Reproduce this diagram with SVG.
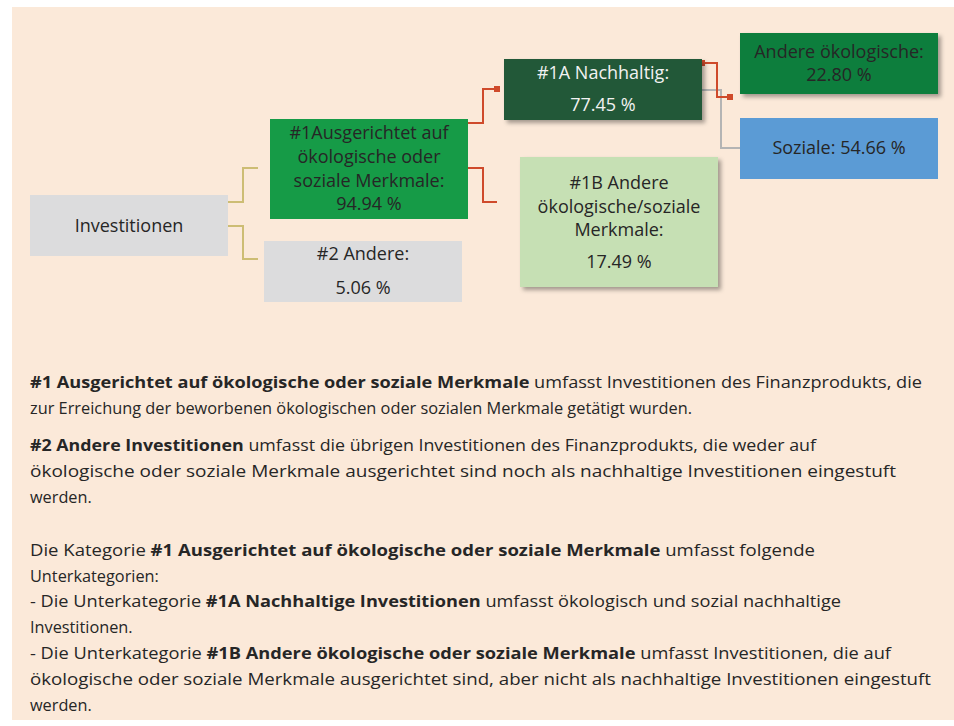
<svg xmlns="http://www.w3.org/2000/svg" width="954" height="726" viewBox="0 0 954 726">
<defs>
<style>
.t{font-family:"Open Sans","Liberation Sans",sans-serif;font-size:18px;fill:#262626;text-anchor:middle}
.w{fill:#f2f2f2}
.p{font-family:"Open Sans","Liberation Sans",sans-serif;font-size:16.3px;fill:#262626}
.b{font-weight:bold}
.red{fill:none;stroke:#cf4a2b;stroke-width:2}
.gold{fill:none;stroke:#cdbd74;stroke-width:2}
.gray{fill:none;stroke:#b4b4b4;stroke-width:2}
</style>
<filter id="sh" x="-10%" y="-10%" width="130%" height="140%">
<feDropShadow dx="3" dy="3" stdDeviation="2" flood-color="#000" flood-opacity="0.35"/>
</filter>
<marker id="sq" markerWidth="6" markerHeight="6" refX="3" refY="3" markerUnits="userSpaceOnUse">
<rect x="0" y="0" width="6" height="6" fill="#cf4a2b"/>
</marker>
</defs>
<rect x="0" y="0" width="954" height="726" fill="#ffffff"/>
<rect x="12" y="7" width="942" height="713" fill="#fbe9d9"/>

<g id="connectors">
<path class="gold" d="M228,202 H243 V168 H258"/>
<path class="gold" d="M228,226 H243 V259 H258"/>
<path class="red" d="M468,123 H483 V89 H497" marker-end="url(#sq)"/>
<path class="red" d="M468,168 H483 V202 H497"/>
<path class="gray" d="M702,90 H721 V148 H740"/>
<path class="red" d="M702,63 H717 V97 H730" marker-start="url(#sq)" marker-end="url(#sq)"/>
</g>

<g id="investitionen">
<rect x="30" y="195" width="198" height="61" fill="#dcdcdd"/>
<text class="t" x="129" y="232">Investitionen</text>
</g>
<g id="n1">
<rect x="270" y="119" width="198" height="100" fill="#169b47"/>
<text class="t" x="369" y="139">#1Ausgerichtet auf</text>
<text class="t" x="369" y="163">ökologische oder</text>
<text class="t" x="369" y="187">soziale Merkmale:</text>
<text class="t" x="369" y="210">94.94 %</text>
</g>
<g id="n2">
<rect x="264" y="241" width="198" height="61" fill="#dcdcdd"/>
<text class="t" x="363" y="260">#2 Andere:</text>
<text class="t" x="363" y="294">5.06 %</text>
</g>
<g id="n1a">
<rect x="504" y="59" width="198" height="61" fill="#215937" filter="url(#sh)"/>
<text class="t w" x="603" y="79">#1A Nachhaltig:</text>
<text class="t w" x="603" y="111">77.45 %</text>
</g>
<g id="n1b">
<rect x="520" y="157" width="198" height="130" fill="#c6e0b4" filter="url(#sh)"/>
<text class="t" x="619" y="189">#1B Andere</text>
<text class="t" x="619" y="213">ökologische/soziale</text>
<text class="t" x="619" y="236">Merkmale:</text>
<text class="t" x="619" y="268">17.49 %</text>
</g>
<g id="andere">
<rect x="740" y="33" width="198" height="61" fill="#0f7e3e" filter="url(#sh)"/>
<text class="t" x="839" y="58">Andere ökologische:</text>
<text class="t" x="839" y="81">22.80 %</text>
</g>
<g id="soziale">
<rect x="740" y="118" width="198" height="61" fill="#5b9bd5"/>
<text class="t" x="839" y="154">Soziale: 54.66 %</text>
</g>

<g id="legend">
<text class="p" x="30" y="388" textLength="892" lengthAdjust="spacingAndGlyphs"><tspan class="b">#1 Ausgerichtet auf ökologische oder soziale Merkmale</tspan> umfasst Investitionen des Finanzprodukts, die</text>
<text class="p" x="30" y="414" textLength="662" lengthAdjust="spacingAndGlyphs">zur Erreichung der beworbenen ökologischen oder sozialen Merkmale getätigt wurden.</text>
<text class="p" x="30" y="451" textLength="786" lengthAdjust="spacingAndGlyphs"><tspan class="b">#2 Andere Investitionen</tspan> umfasst die übrigen Investitionen des Finanzprodukts, die weder auf</text>
<text class="p" x="30" y="477" textLength="866" lengthAdjust="spacingAndGlyphs">ökologische oder soziale Merkmale ausgerichtet sind noch als nachhaltige Investitionen eingestuft</text>
<text class="p" x="30" y="503">werden.</text>
<text class="p" x="30" y="556" textLength="785" lengthAdjust="spacingAndGlyphs">Die Kategorie <tspan class="b">#1 Ausgerichtet auf ökologische oder soziale Merkmale</tspan> umfasst folgende</text>
<text class="p" x="30" y="582">Unterkategorien:</text>
<text class="p" x="30" y="607" textLength="811" lengthAdjust="spacingAndGlyphs">- Die Unterkategorie <tspan class="b">#1A Nachhaltige Investitionen</tspan> umfasst ökologisch und sozial nachhaltige</text>
<text class="p" x="30" y="633">Investitionen.</text>
<text class="p" x="30" y="659" textLength="861" lengthAdjust="spacingAndGlyphs">- Die Unterkategorie <tspan class="b">#1B Andere ökologische oder soziale Merkmale</tspan> umfasst Investitionen, die auf</text>
<text class="p" x="30" y="685" textLength="901" lengthAdjust="spacingAndGlyphs">ökologische oder soziale Merkmale ausgerichtet sind, aber nicht als nachhaltige Investitionen eingestuft</text>
<text class="p" x="30" y="711">werden.</text>
</g>
</svg>
